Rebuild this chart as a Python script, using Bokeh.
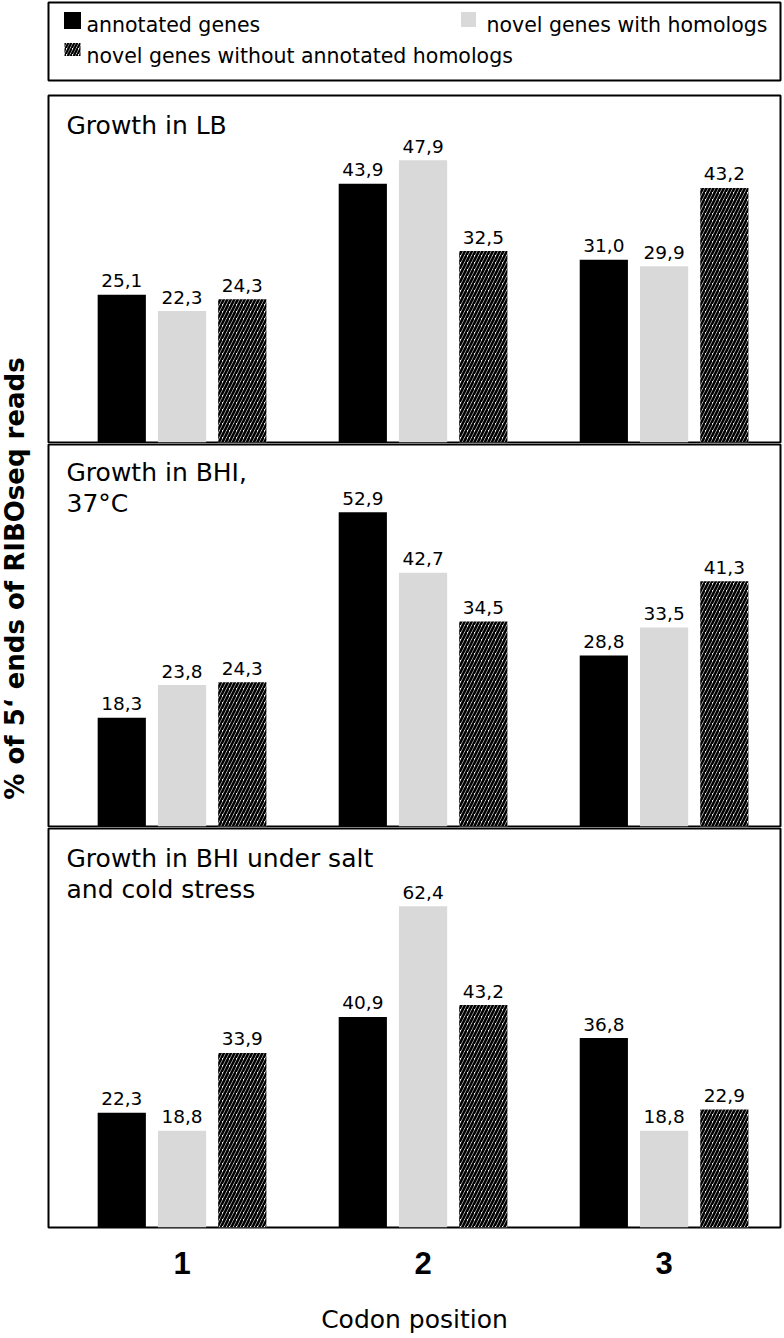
import math
from bokeh.plotting import figure
from bokeh.layouts import column, row
from bokeh.models import Range1d, FixedTicker
from bokeh.embed import file_html
from bokeh.resources import INLINE
from bokeh.core.properties import value

# ---------------- data ----------------
positions = [1, 2, 3]
position_labels = ["1", "2", "3"]
series_names = ["annotated genes", "novel genes with homologs",
                "novel genes without annotated homologs"]
panel_titles = [["Growth in LB"],
                ["Growth in BHI,", "37°C"],
                ["Growth in BHI under salt", "and cold stress"]]

lb_annotated = [25.1, 43.9, 31.0]
lb_homologs = [22.3, 47.9, 29.9]
lb_novel = [24.3, 32.5, 43.2]

bhi_annotated = [18.3, 52.9, 28.8]
bhi_homologs = [23.8, 42.7, 33.5]
bhi_novel = [24.3, 34.5, 41.3]

stress_annotated = [22.3, 40.9, 36.8]
stress_homologs = [18.8, 62.4, 18.8]
stress_novel = [33.9, 43.2, 22.9]

y_label = "% of 5\u2018 ends of RIBOseq reads"
x_label = "Codon position"

# ---------------- style ----------------
FONT = "DejaVu Sans"
TICK_FONT = "Liberation Sans"
GRAY = "#d9d9d9"
X0, X1 = 0.446, 3.483
OFFSETS = [-0.25, 0.0, 0.25]
BAR_W = 0.2


def fmt(v):
    return f"{v:.1f}".replace(".", ",")


def style_hatch(scale=7, weight=2.7):
    return dict(fill_color="white", hatch_pattern="right_diagonal_line", hatch_color="black",
                hatch_scale=scale, hatch_weight=weight, hatch_alpha=1.0)


def make_panel(title_lines, series, y_end, height, border_bottom, baseline0, with_axis):
    p = figure(width=735, height=height,
               x_range=Range1d(X0, X1), y_range=Range1d(0, y_end),
               output_backend="svg", toolbar_location=None,
               min_border_left=1, min_border_right=2, min_border_top=1,
               min_border_bottom=border_bottom,
               x_axis_location="below" if with_axis else None,
               y_axis_location=None)
    p.outline_line_color = "black"
    p.outline_line_width = 2
    p.outline_line_alpha = 1.0
    p.grid.visible = False
    p.background_fill_color = "white"
    p.border_fill_color = "white"

    styles = [dict(fill_color="black"), dict(fill_color=GRAY), style_hatch()]
    for vals, off, st in zip(series, OFFSETS, styles):
        xs = [pos + off for pos in positions]
        p.vbar(x=xs, top=vals, width=BAR_W, bottom=0, line_color=None, **st)
        p.text(x=xs, y=vals, text=[fmt(v) for v in vals],
               text_align="center", text_baseline="alphabetic", y_offset=-14,
               text_font=value(FONT), text_font_size="18.5px", text_color="black")

    for i, line in enumerate(title_lines):
        p.text(x=[X0], y=[y_end], text=[line], x_offset=18,
               y_offset=baseline0 + 31 * i,
               text_align="left", text_baseline="alphabetic",
               text_font=value(FONT), text_font_size="25px", text_color="black")

    if with_axis:
        ax = p.xaxis[0]
        ax.ticker = FixedTicker(ticks=positions)
        ax.major_label_overrides = {pos: lab for pos, lab in zip(positions, position_labels)}
        ax.axis_line_color = None
        ax.major_tick_line_color = None
        ax.minor_tick_line_color = None
        ax.major_tick_out = 0
        ax.major_tick_in = 0
        ax.minor_tick_out = 0
        ax.major_label_standoff = 24
        ax.major_label_text_font = TICK_FONT
        ax.major_label_text_font_size = "31px"
        ax.major_label_text_font_style = "bold"
        ax.major_label_text_color = "black"
        ax.axis_label = x_label
        ax.axis_label_text_font = FONT
        ax.axis_label_text_font_size = "25px"
        ax.axis_label_text_font_style = "normal"
        ax.axis_label_text_color = "black"
        ax.axis_label_standoff = 28
    return p


p1 = make_panel(panel_titles[0], [lb_annotated, lb_homologs, lb_novel],
                58.9, 349, 1, 30, False)
p2 = make_panel(panel_titles[1], [bhi_annotated, bhi_homologs, bhi_novel],
                64.3, 384, 1, 28, False)
p3 = make_panel(panel_titles[2], [stress_annotated, stress_homologs, stress_novel],
                77.5, 509, 109, 30, True)

# ---------------- legend ----------------
leg = figure(width=782, height=94, x_range=Range1d(0, 732), y_range=Range1d(78, 0),
             output_backend="svg", toolbar_location=None,
             min_border_left=48, min_border_right=2, min_border_top=2, min_border_bottom=14,
             x_axis_location=None, y_axis_location=None)
leg.outline_line_color = "black"
leg.outline_line_width = 2
leg.grid.visible = False
leg.rect(x=[24], y=[18], width=17, height=17, fill_color="black", line_color=None)
leg.rect(x=[420], y=[17], width=15, height=15, fill_color=GRAY, line_color=None)
leg.rect(x=[24], y=[47], width=16, height=13, line_color=None, **style_hatch(6, 2.3))
leg.text(x=[38, 438, 38], y=[22, 22, 53], text=series_names,
         text_align="left", text_baseline="alphabetic",
         text_font=value(FONT), text_font_size="20.5px", text_color="black")

# ---------------- y label ----------------
yl = figure(width=47, height=1242, x_range=Range1d(0, 47), y_range=Range1d(1242, 0),
            output_backend="svg", toolbar_location=None, min_border=0,
            x_axis_location=None, y_axis_location=None)
yl.outline_line_color = None
yl.grid.visible = False
yl.text(x=[14], y=[578 - 94], text=[y_label], angle=math.pi / 2,
        text_align="center", text_baseline="middle",
        text_font=value(FONT), text_font_size="26px", text_font_style="bold",
        text_color="black")

layout = column(leg, row(yl, column(p1, p2, p3, spacing=0), spacing=0), spacing=0)

open("out.html", "w").write(file_html(layout, INLINE))
